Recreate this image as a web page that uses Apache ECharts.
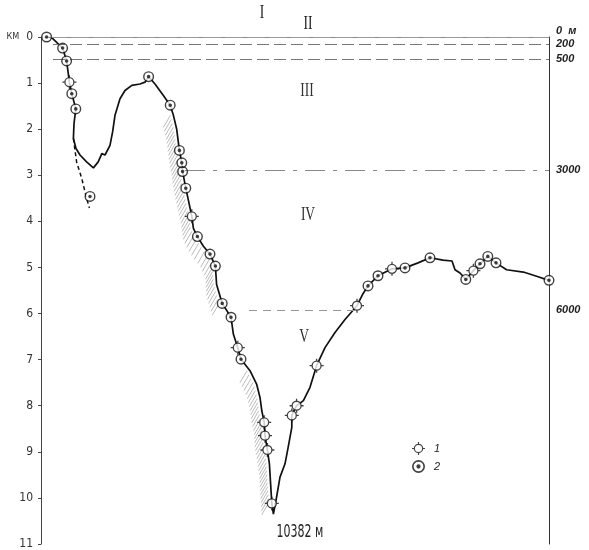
<!DOCTYPE html>
<html>
<head>
<meta charset="utf-8">
<script src="https://cdn.jsdelivr.net/npm/echarts@6/dist/echarts.min.js"></script>
<style>
  html, body { margin: 0; padding: 0; background: #fff; }
  #main { width: 589px; height: 550px; }
</style>
</head>
<body>
<div id="main"></div>
<script>
// distance along profile (arbitrary units), depth in km
var profile = [
  [1.4, 0.0], [2.75, 0.02], [5.4, 0.24], [6.4, 0.52], [7.1, 0.98], [7.7, 1.23], [8.7, 1.56],
  [8.25, 1.88], [8.1, 2.20], [8.75, 2.42], [9.75, 2.56], [11.4, 2.71], [13.1, 2.84], [14.3, 2.71],
  [15.2, 2.53], [16.0, 2.56], [17.25, 2.35], [17.9, 2.06], [18.5, 1.70], [19.75, 1.34], [21.0, 1.16],
  [22.7, 1.05], [24.75, 1.02], [26.0, 0.98], [26.9, 0.86], [28.5, 1.02], [30.6, 1.27], [32.3, 1.48],
  [33.1, 1.70], [33.9, 1.99], [34.6, 2.46], [35.2, 2.73], [35.4, 2.92], [36.2, 3.28], [37.7, 3.89],
  [38.1, 4.15], [39.1, 4.33], [40.6, 4.54], [42.25, 4.71], [43.6, 4.97], [43.9, 5.37], [45.3, 5.78],
  [47.5, 6.08], [48.1, 6.45], [49.2, 6.74], [50.0, 6.99], [52.25, 7.24], [53.9, 7.53], [54.75, 7.82],
  [55.2, 8.11], [55.8, 8.36], [56.0, 8.65], [56.6, 8.96], [57.1, 9.26], [57.4, 9.69], [57.7, 10.12],
  [58.1, 10.35], [58.9, 9.98], [59.75, 9.55], [61.0, 9.26], [61.8, 8.90], [62.7, 8.47], [62.7, 8.21],
  [63.9, 8.00], [65.6, 7.89], [67.25, 7.60], [68.9, 7.13], [71.0, 6.74], [73.5, 6.41], [76.0, 6.13],
  [79.0, 5.83], [80.5, 5.57], [81.75, 5.40], [84.25, 5.18], [87.75, 5.03], [91.0, 5.01], [94.25, 4.90],
  [97.25, 4.79], [100.5, 4.84], [102.75, 4.86], [103.5, 5.05], [104.75, 5.12], [106.2, 5.26],
  [108.1, 5.07], [109.75, 4.92], [111.7, 4.76], [113.75, 4.90], [116.4, 5.05], [120.6, 5.10],
  [123.9, 5.19], [127.0, 5.28]
];

var dashedBranch = [[8.1, 2.20], [8.9, 2.71], [10.2, 3.07], [11.4, 3.50], [12.1, 3.71]];

var points1 = [
  [7.1, 0.98], [37.7, 3.89], [49.2, 6.74], [55.8, 8.36], [56.0, 8.65], [56.6, 8.96], [57.7, 10.12],
  [62.7, 8.21], [63.9, 8.00], [68.9, 7.13], [79.0, 5.83], [87.75, 5.03], [108.1, 5.07]
];

var points2 = [
  [1.4, 0.0], [5.4, 0.24], [6.4, 0.52], [7.7, 1.23], [8.7, 1.56], [12.25, 3.46], [26.9, 0.86],
  [32.3, 1.48], [34.6, 2.46], [35.2, 2.73], [35.4, 2.92], [36.2, 3.28], [39.1, 4.33], [42.25, 4.71],
  [43.6, 4.97], [45.3, 5.78], [47.5, 6.08], [50.0, 6.99], [81.75, 5.40], [84.25, 5.18], [91.0, 5.01],
  [97.25, 4.79], [106.2, 5.26], [109.75, 4.92], [111.7, 4.76], [113.75, 4.90], [127.0, 5.28]
];

// slope stretches (indices into profile) shaded with hatching
var hatchSpans = [[28, 41], [46, 55]];

// zone boundaries: depth (km), right-hand label, horizontal extent
var zoneDepths = [0, 0.15, 0.48, 2.89, 5.92];
var zoneLabels = ['0  м', '200', '500', '3000', '6000'];
var zoneStart = [2, 3, 3, 36, 52];
var zoneEnd = [127, 127, 127, 127, 80];

var zoneNames = ['I', 'II', 'III', 'IV', 'V'];
var deepestLabel = '10382 м';
var legendNames = ['1', '2'];

var ring = 'M5.5,0 A5.5,5.5 0 1 1 -5.5,0 A5.5,5.5 0 1 1 5.5,0 Z M4.1,0 A4.1,4.1 0 1 0 -4.1,0 A4.1,4.1 0 1 0 4.1,0 Z ';
var sym2 = 'path://' + ring + 'M1.8,0 A1.8,1.8 0 1 1 -1.8,0 A1.8,1.8 0 1 1 1.8,0 Z';
var sym1 = 'path://M-7.5,-7.5 L-7.5,-7.5 Z M7.5,7.5 L7.5,7.5 Z ' + ring +
  'M-0.7,-7.5 L0.7,-7.5 L0.7,-5 L-0.7,-5 Z M-0.7,5 L0.7,5 L0.7,7.5 L-0.7,7.5 Z ' +
  'M-7.5,-0.7 L-5,-0.7 L-5,0.7 L-7.5,0.7 Z M5,-0.7 L7.5,-0.7 L7.5,0.7 L5,0.7 Z';

var chart = echarts.init(document.getElementById('main'));

var markData = [];
zoneDepths.forEach(function (d, i) {
  var lineStyle = { color: '#777', width: 1, type: [12, 5] };
  if (i === 0) lineStyle = { color: '#999', width: 1, type: [18, 4] };
  if (i === 3) lineStyle = { color: '#888', width: 1, type: [20, 8, 4, 8] };
  if (i === 4) lineStyle = { color: '#999', width: 1, type: [8, 6] };
  var label = {
    show: true, position: 'end', distance: 7, formatter: zoneLabels[i],
    fontStyle: 'italic', fontWeight: 'bold', fontSize: 11,
    fontFamily: 'Liberation Sans', color: '#222',
    offset: i === 0 ? [0, -6] : [0, 0]
  };
  if (zoneEnd[i] < 127) {
    markData.push([{ coord: [zoneStart[i], d], lineStyle: lineStyle, label: { show: false } },
                   { coord: [zoneEnd[i], d] }]);
    markData.push([{ coord: [zoneEnd[i], d], lineStyle: { color: 'rgba(0,0,0,0)', width: 0 }, label: label },
                   { coord: [127, d] }]);
  } else {
    markData.push([{ coord: [zoneStart[i], d], lineStyle: lineStyle, label: label },
                   { coord: [zoneEnd[i], d] }]);
  }
});

function hatchItem(params, api) {
  var span = hatchSpans[params.dataIndex];
  var pts = [];
  for (var k = span[0]; k <= span[1]; k++) pts.push(api.coord(profile[k]));
  var children = [];
  var y0 = pts[0][1], y1 = pts[pts.length - 1][1];
  for (var y = y0; y <= y1; y += 4) {
    var x = pts[0][0];
    for (var j = 1; j < pts.length; j++) {
      if (pts[j][1] >= y) {
        var a = pts[j - 1], b = pts[j];
        var t = b[1] === a[1] ? 0 : (y - a[1]) / (b[1] - a[1]);
        x = a[0] + t * (b[0] - a[0]);
        break;
      }
    }
    children.push({
      type: 'line',
      shape: { x1: x - 3, y1: y, x2: x - 10, y2: y + 12 },
      style: { stroke: '#aaa', lineWidth: 0.8 }
    });
  }
  return { type: 'group', children: children };
}

var option = {
  backgroundColor: '#fff',
  animation: false,
  grid: { left: 41, right: 40, top: 37, bottom: 3 },
  legend: {
    data: legendNames,
    orient: 'vertical',
    left: 407, top: 437,
    itemWidth: 13, itemHeight: 13, itemGap: 5,
    textStyle: { fontStyle: 'italic', fontSize: 11, color: '#222', padding: [0, 0, 0, 4] }
  },
  xAxis: {
    type: 'value', min: 0, max: 127,
    axisLine: { show: true, lineStyle: { color: '#888', width: 1 } },
    axisTick: { show: false }, axisLabel: { show: false }, splitLine: { show: false }
  },
  yAxis: [{
    type: 'value', min: 0, max: 11, interval: 1, inverse: true,
    axisLine: { show: true, lineStyle: { color: '#444', width: 1 } },
    axisTick: { show: true, length: 3, lineStyle: { color: '#444' } },
    axisLabel: {
      margin: 8, fontSize: 12, color: '#333',
      fontFamily: '"DejaVu Sans Condensed", "Liberation Sans", sans-serif',
      formatter: function (v) { return v === 0 ? '{k|КМ}  0' : String(v); },
      rich: { k: { fontSize: 9, color: '#333', fontFamily: '"DejaVu Sans Condensed", sans-serif' } }
    },
    splitLine: { show: false }
  }, {
    type: 'value', min: 0, max: 11, inverse: true, position: 'right',
    axisLine: { show: true, lineStyle: { color: '#333', width: 1 } },
    axisTick: { show: false }, axisLabel: { show: false }, splitLine: { show: false }
  }],
  series: [{
    type: 'custom', name: 'hatch', silent: true, z: 1,
    renderItem: hatchItem,
    data: hatchSpans.map(function (s) { return [profile[s[0]][0], profile[s[0]][1]]; })
  }, {
    type: 'line', name: 'profile', data: profile, symbol: 'none', z: 3,
    lineStyle: { color: '#111', width: 1.7 },
    markLine: { silent: true, symbol: 'none', data: markData }
  }, {
    type: 'line', name: 'branch', data: dashedBranch, symbol: 'none', z: 3,
    lineStyle: { color: '#111', width: 1.5, type: [4, 3] }
  }, {
    type: 'scatter', name: 'bg', data: points1.concat(points2), symbol: 'circle', symbolSize: 9,
    itemStyle: { color: '#fff' }, z: 4, silent: true, clip: false
  }, {
    type: 'scatter', name: '1', data: points1, symbol: sym1, symbolSize: 14,
    itemStyle: { color: '#111' }, z: 5, clip: false
  }, {
    type: 'scatter', name: '2', data: points2, symbol: sym2, symbolSize: 11,
    itemStyle: { color: '#111' }, z: 5, clip: false
  }],
  graphic: [
    { type: 'text', x: 262, y: 13, scaleX: 0.75, style: { text: zoneNames[0], font: '18px "Liberation Serif", serif', fill: '#222', align: 'center', verticalAlign: 'middle' } },
    { type: 'text', x: 308, y: 24, scaleX: 0.75, style: { text: zoneNames[1], font: '18px "Liberation Serif", serif', fill: '#222', align: 'center', verticalAlign: 'middle' } },
    { type: 'text', x: 307, y: 91, scaleX: 0.75, style: { text: zoneNames[2], font: '18px "Liberation Serif", serif', fill: '#333', align: 'center', verticalAlign: 'middle' } },
    { type: 'text', x: 308, y: 215, scaleX: 0.75, style: { text: zoneNames[3], font: '18px "Liberation Serif", serif', fill: '#333', align: 'center', verticalAlign: 'middle' } },
    { type: 'text', x: 304, y: 337, scaleX: 0.75, style: { text: zoneNames[4], font: '18px "Liberation Serif", serif', fill: '#333', align: 'center', verticalAlign: 'middle' } },
    { type: 'text', x: 300, y: 533, scaleX: 0.72, style: { text: deepestLabel, font: '17px "DejaVu Sans Condensed", sans-serif', fill: '#222', align: 'center', verticalAlign: 'middle' } }
  ]
};

chart.setOption(option);
</script>
</body>
</html>
